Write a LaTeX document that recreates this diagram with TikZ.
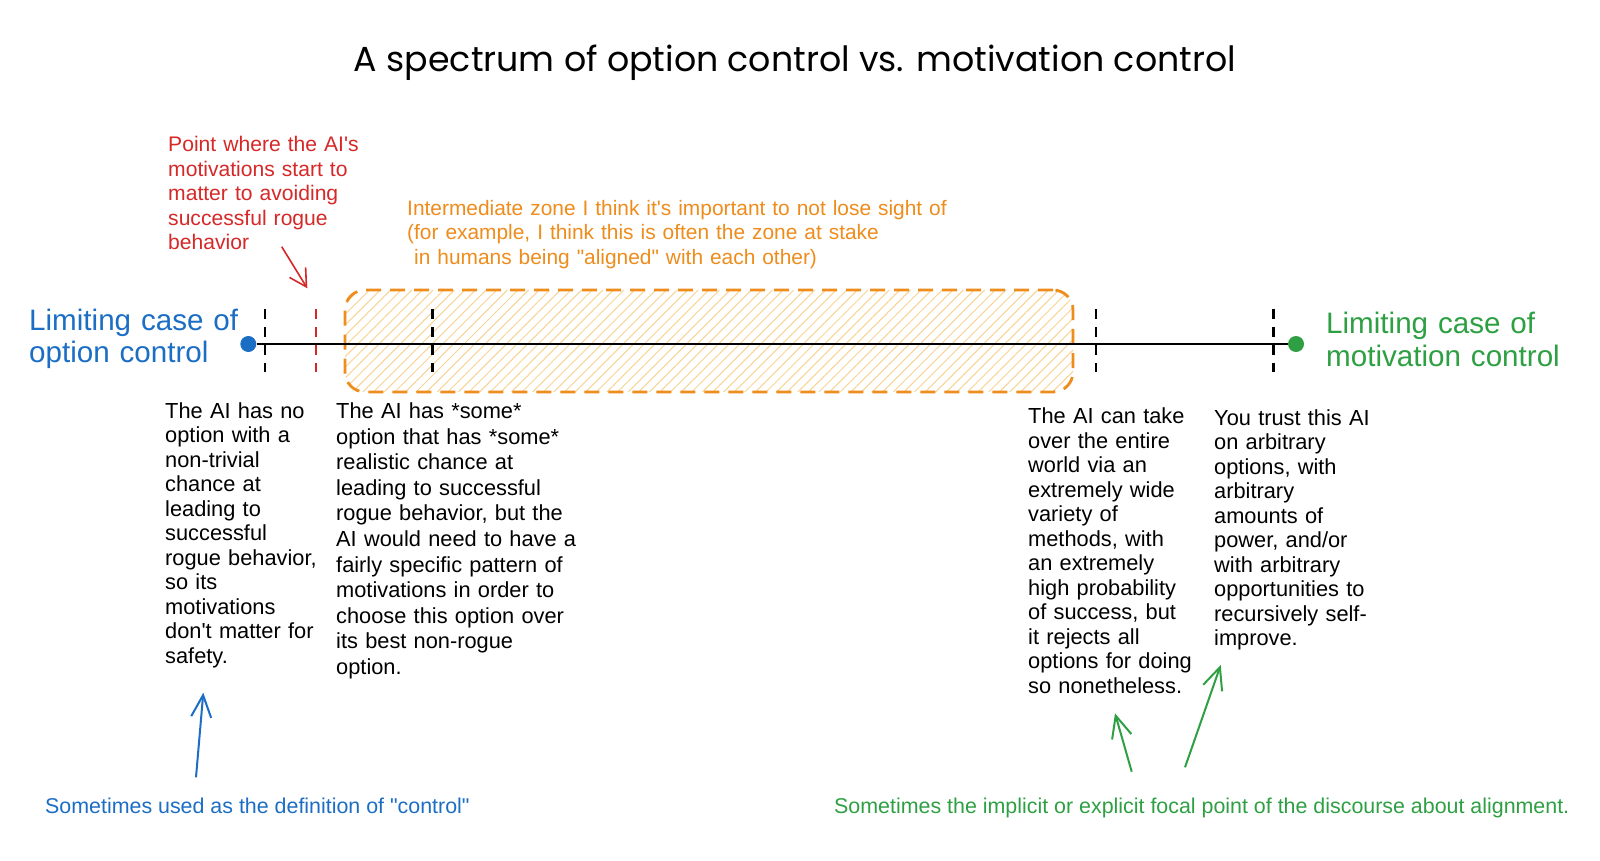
\documentclass[tikz,border=0pt]{standalone}
\usepackage{fontspec}
\setmainfont{Liberation Sans}[Ligatures=TeXOff]
\newfontfamily\titlefont{Poppins}
\usepackage{graphicx}
\usepackage{xcolor}
\usetikzlibrary{arrows.meta}
\usetikzlibrary{patterns.meta}
\definecolor{optblue}{RGB}{28,110,196}
\definecolor{motgreen}{RGB}{46,160,67}
\definecolor{pointred}{RGB}{214,40,40}
\definecolor{zoneorange}{RGB}{238,140,28}
\definecolor{zonehatch}{RGB}{247,212,148}

\begin{document}
\begin{tikzpicture}[x=1pt, y=-1pt,
  note/.style={anchor=north west, inner sep=0pt, align=left, text width=260pt,
    font=\fontsize{21.8}{24.5}\selectfont, execute at begin node=\strut},
  wide/.style={note, font=\fontsize{21.8}{25.6}\selectfont},
  small/.style={note, font=\fontsize{21.1}{24.5}\selectfont},
  label/.style={anchor=north west, inner sep=0pt, align=left, text width=260pt,
    font=\fontsize{29.6}{32.5}\selectfont, execute at begin node=\strut},
  foot/.style={anchor=base west, inner sep=0pt, font=\fontsize{21.4}{24.5}\selectfont},
  tick/.style={line width=2.6pt, dash pattern=on 10pt off 8pt},
  dot/.style={circle, inner sep=0pt, minimum size=16pt},
  hand/.style={line width=2pt, -{Straight Barb[length=22pt, width=20pt]}}]

  \useasboundingbox (0,0) rectangle (1600,861);
  \fill[white] (0,0) rectangle (1600,861);

  \node[anchor=base, inner sep=0pt] (title) at (795,71.5)
    {\resizebox{882pt}{!}{\titlefont A spectrum of option control vs. motivation control}};

  \node[draw=zoneorange, line width=2.8pt, dash pattern=on 15pt off 9pt, rounded corners=20pt,
    minimum width=728pt, minimum height=102pt, inner sep=0pt,
    pattern={Lines[angle=45, distance=7.5pt, line width=1pt]}, pattern color=zonehatch] (zone) at (709,341) {};

  \node[dot, fill=optblue] (d1) at (248.3,344) {};
  \node[dot, fill=motgreen] (d2) at (1296,344) {};
  \draw[line width=2.4pt] (d1) -- (d2);

  \draw[tick] (265,309) -- (265,372);
  \draw[tick, pointred] (316,309) -- (316,372);
  \draw[tick] (432.3,309) -- (432.3,372);
  \draw[tick] (1096,309) -- (1096,372);
  \draw[tick] (1273.3,309) -- (1273.3,372);

  \node[label, text=optblue] (l1) at (29,307.3) {Limiting case of\\option control};
  \node[label, text=motgreen] (l2) at (1326,310.8) {Limiting case of\\motivation control};

  \node[small, text=pointred] (p1) at (168,134.5)
    {Point where the AI's\\motivations start to\\matter to avoiding\\successful rogue\\behavior};
  \node[small, font=\fontsize{20.9}{24.5}\selectfont, text width=600pt, text=zoneorange] (z1) at (407,197.9)
    {Intermediate zone I think it's important to not lose sight of\\(for example, I think this is often the zone at stake\\\hphantom{ }in humans being "aligned" with each other)};

  \node[note] (t1) at (165,401.1)
    {The AI has no\\option with a\\non-trivial\\chance at\\leading to\\successful\\rogue behavior,\\so its\\motivations\\don't matter for\\safety.};
  \node[wide] (t2) at (336,400.4)
    {The AI has *some*\\option that has *some*\\realistic chance at\\leading to successful\\rogue behavior, but the\\AI would need to have a\\fairly specific pattern of\\motivations in order to\\choose this option over\\its best non-rogue\\option.};
  \node[note] (t3) at (1028,406.2)
    {The AI can take\\over the entire\\world via an\\extremely wide\\variety of\\methods, with\\an extremely\\high probability\\of success, but\\it rejects all\\options for doing\\so nonetheless.};
  \node[note] (t4) at (1214,407.8)
    {You trust this AI\\on arbitrary\\options, with\\arbitrary\\amounts of\\power, and/or\\with arbitrary\\opportunities to\\recursively self-\\improve.};

  \node[foot, text=optblue] (f1) at (45,813.7) {Sometimes used as the definition of "control"};
  \node[foot, text=motgreen] (f2) at (834,813.7) {Sometimes the implicit or explicit focal point of the discourse about alignment.};

  \coordinate (r0) at (281.7,246.7);
  \coordinate (r1) at (307.3,288.3);
  \coordinate (b0) at (196,777.3);
  \coordinate (b1) at (203.3,692.7);
  \coordinate (g0) at (1131.7,771.7);
  \coordinate (g1) at (1115,713.3);
  \coordinate (h0) at (1185,767.3);
  \coordinate (h1) at (1220.7,665);

  \draw[hand, pointred, line width=1.6pt, -{Straight Barb[length=17pt, width=19pt]}] (r0) -- (r1);
  \draw[hand, optblue] (b0) -- (b1);
  \draw[hand, motgreen] (g0) -- (g1);
  \draw[hand, motgreen] (h0) -- (h1);
\end{tikzpicture}
\end{document}
